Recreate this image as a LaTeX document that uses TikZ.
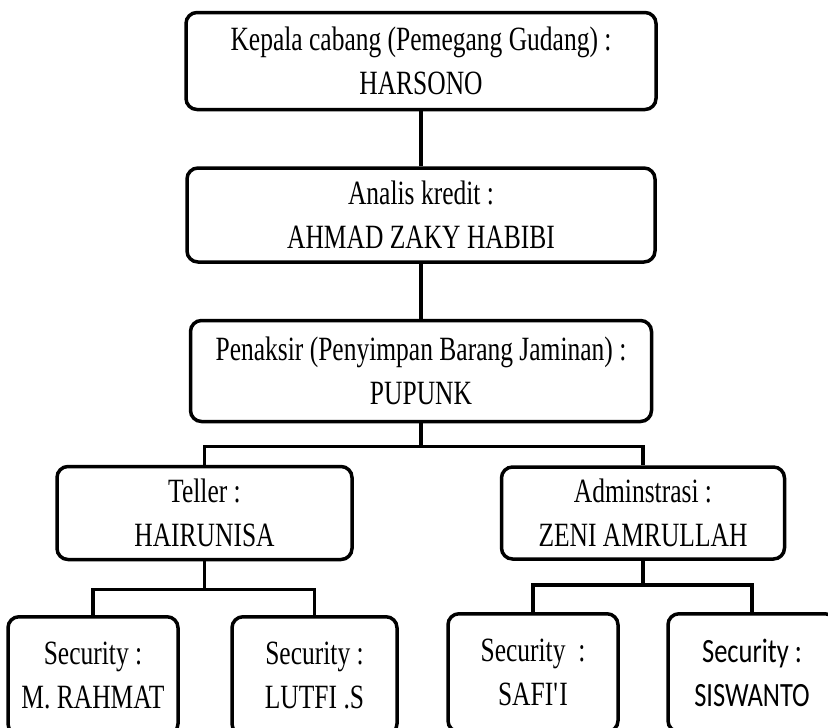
\documentclass[tikz,border=0pt]{standalone}
\usepackage{fontspec}
\setmainfont{Liberation Serif}
\newfontfamily\orgfont[FakeStretch=0.75]{Liberation Serif}
\newfontfamily\orgsans[FakeStretch=0.78]{Carlito}
\usetikzlibrary{positioning}

\begin{document}
\begin{tikzpicture}[x=1pt,y=-1pt,
    post/.style={draw,line width=3.5pt,rounded corners=11pt,align=center,inner sep=0pt,
                 font=\orgfont\fontsize{34}{44}\selectfont},
    guard/.style={post,anchor=north,minimum width=168pt,minimum height=118pt},
    link/.style={line width=3.5pt}]

\useasboundingbox (0,0) rectangle (828,728);
\clip (0,0) rectangle (828,728);

\node[post,minimum width=470pt,minimum height=97pt] (kepala) at (421,61)
    {Kepala cabang (Pemegang Gudang) :\\HARSONO};
\node[post,minimum width=468pt,minimum height=94pt,below=55pt of kepala] (analis)
    {Analis kredit :\\AHMAD ZAKY HABIBI};
\node[post,minimum width=461pt,minimum height=101pt,below=55pt of analis] (penaksir)
    {Penaksir (Penyimpan Barang Jaminan) :\\PUPUNK};

\node[post,minimum width=295pt,minimum height=93pt] (teller) at (204.5,513)
    {Teller :\\HAIRUNISA};
\node[post,minimum width=283pt,minimum height=92pt] (admin) at (643,513)
    {Adminstrasi :\\ZENI AMRULLAH};

\node[guard,minimum width=170pt] (rahmat) at (93,615) {Security :\\M. RAHMAT};
\node[guard,minimum width=165pt] (lutfi) at (314.5,615) {Security :\\LUTFI .S};
\node[guard,minimum width=170pt] (safii) at (533,612) {Security\ \ :\\SAFI\textquotesingle I};
\node[guard,font=\orgsans\fontsize{34}{44}\selectfont] (siswanto) at (752,612)
    {Security :\\SISWANTO};

\draw[link] (kepala) -- (analis);
\draw[link] (analis) -- (penaksir);
\draw[link] (penaksir.south) -- ++(0,23) -| (teller.north)
            (penaksir.south) ++(0,23) -| (admin.north);
\draw[link] (teller.south) -- ++(0,28) -| (rahmat.north)
            (teller.south) ++(0,28) -| (lutfi.north);
\draw[link] (admin.south) -- ++(0,24) -| (safii.north)
            (admin.south) ++(0,24) -| (siswanto.north);

\end{tikzpicture}
\end{document}
